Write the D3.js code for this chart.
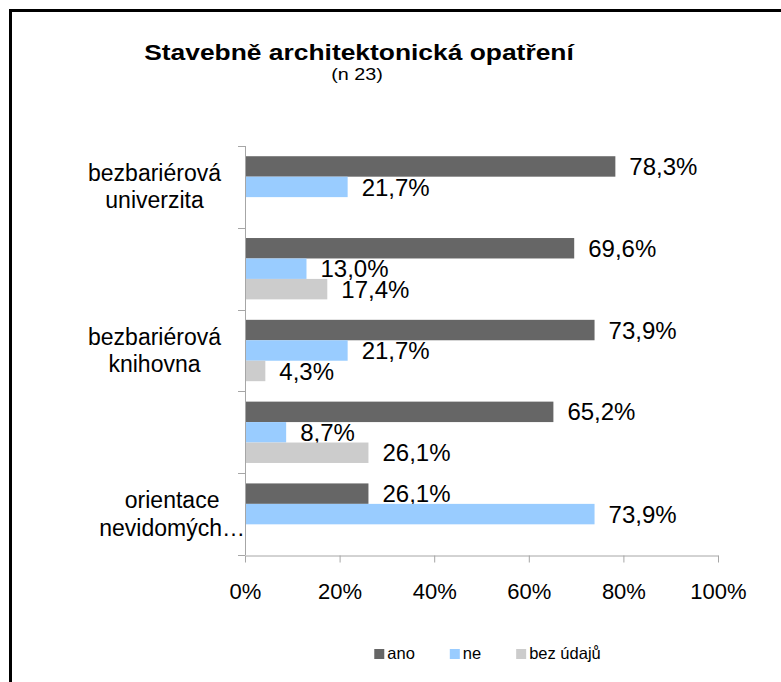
<!DOCTYPE html>
<html>
<head>
<meta charset="utf-8">
<script src="https://cdn.jsdelivr.net/npm/d3@7"></script>
<style>
  body { margin: 0; background: #fff; }
  svg { display: block; font-family: "Liberation Sans", Arial, sans-serif; }
</style>
</head>
<body>
<svg width="781" height="682"></svg>
<script>
// data
const categoryLines = [
  ["bezbariérová", "univerzita"],
  [],
  ["bezbariérová", "knihovna"],
  [],
  ["orientace", "nevidomých…"],
];
const seriesNames = ["ano", "ne", "bez údajů"];
const ano = [78.3, 69.6, 73.9, 65.2, 26.1];
const ne = [21.7, 13.0, 21.7, 8.7, 73.9];
const bezUdaju = [null, 17.4, 4.3, 26.1, null];
const xTicks = [0, 20, 40, 60, 80, 100];
const colors = ["#666666", "#99ccff", "#cccccc"];

const seriesValues = [ano, ne, bezUdaju];

const svg = d3.select("svg");
const cs = d3.formatLocale({ decimal: ",", thousands: " ", grouping: [3], currency: ["", " Kč"] });
const fmt = cs.format(".1f");

// frame
svg.append("rect")
  .attr("x", 10.5).attr("y", 10.5)
  .attr("width", 820).attr("height", 720)
  .attr("fill", "none")
  .attr("stroke", "#000")
  .attr("stroke-width", 3);

// title (stretched horizontally like the original)
svg.append("text")
  .attr("transform", "translate(359,60) scale(1.2,1)")
  .attr("text-anchor", "middle")
  .attr("font-weight", "bold")
  .attr("font-size", 22)
  .text("Stavebně architektonická opatření");

svg.append("text")
  .attr("transform", "translate(357,80) scale(1.2,1)")
  .attr("text-anchor", "middle")
  .attr("font-size", 16.5)
  .text("(n 23)");

// scales
const x = d3.scaleLinear().domain([0, 100]).range([245, 718]);
const y = d3.scaleBand()
  .domain(d3.range(categoryLines.length))
  .range([146, 555]);
const yInner = d3.scaleBand()
  .domain(seriesNames)
  .range([y.bandwidth() * 0.125, y.bandwidth() * 0.875]);

// bars
const groups = svg.append("g").attr("class", "bars")
  .selectAll("g")
  .data(d3.range(categoryLines.length))
  .join("g")
  .attr("transform", (i) => `translate(0,${y(i)})`);

const cells = groups.selectAll("g")
  .data((i) => seriesNames.map((s, k) => ({ s, k, v: seriesValues[k][i] })).filter((d) => d.v != null))
  .join("g");

cells.append("rect")
  .attr("x", x(0))
  .attr("y", (d) => yInner(d.s))
  .attr("width", (d) => x(d.v) - x(0))
  .attr("height", yInner.bandwidth())
  .attr("fill", (d) => colors[d.k]);

cells.append("text")
  .attr("x", (d) => x(d.v) + 14)
  .attr("y", (d) => yInner(d.s) + yInner.bandwidth() / 2)
  .attr("dy", "0.36em")
  .attr("font-size", 24)
  .attr("fill", "#000")
  .text((d) => fmt(d.v) + "%");

// y axis line and ticks at band boundaries
const axisColor = "#a6a6a6";
const yAxis = svg.append("g").attr("class", "y-axis");
yAxis.append("line")
  .attr("x1", x(0) + 0.5).attr("x2", x(0) + 0.5)
  .attr("y1", y.range()[0]).attr("y2", y.range()[1])
  .attr("stroke", axisColor);
yAxis.selectAll("line.tick")
  .data(d3.range(categoryLines.length + 1))
  .join("line")
  .attr("class", "tick")
  .attr("x1", x(0) - 7).attr("x2", x(0))
  .attr("y1", (i) => Math.round(y.range()[0] + i * y.step()) + 0.5)
  .attr("y2", (i) => Math.round(y.range()[0] + i * y.step()) + 0.5)
  .attr("stroke", axisColor);

// category labels (two lines, centered within their block)
const catLabels = yAxis.selectAll("g.cat")
  .data(d3.range(categoryLines.length).filter((i) => categoryLines[i].length))
  .join("g")
  .attr("class", "cat");

catLabels.each(function (i) {
  const g = d3.select(this);
  const lines = categoryLines[i];
  const cy = y(i) + y.bandwidth() / 2;
  const texts = lines.map((ln, j) =>
    g.append("text")
      .attr("y", cy - 6 + j * 27.5)
      .attr("font-size", 23)
      .attr("text-anchor", "middle")
      .text(ln)
  );
  const w = d3.max(texts, (t) => t.node().getComputedTextLength());
  const right = lines.some((ln) => ln.endsWith("…")) ? 245 : 221;
  texts.forEach((t) => t.attr("x", right - w / 2));
});

// x axis
const xAxis = svg.append("g")
  .attr("class", "x-axis")
  .attr("transform", `translate(0,${y.range()[1] + 0.5})`)
  .call(d3.axisBottom(x).tickValues(xTicks).tickFormat((d) => d + "%").tickSize(7).tickSizeOuter(0));
xAxis.select(".domain").attr("stroke", axisColor);
xAxis.selectAll(".tick line").attr("stroke", axisColor);
xAxis.selectAll(".tick text")
  .attr("font-family", "Liberation Sans, Arial, sans-serif")
  .attr("font-size", 22)
  .attr("fill", "#000")
  .attr("y", 0)
  .attr("dy", 43);

// legend
const legend = svg.append("g").attr("class", "legend");
const items = legend.selectAll("g")
  .data(seriesNames)
  .join("g");
items.append("rect")
  .attr("y", 649)
  .attr("width", 10).attr("height", 10)
  .attr("fill", (d, k) => colors[k]);
items.append("text")
  .attr("x", 13)
  .attr("y", 659)
  .attr("font-size", 16.5)
  .text((d) => d);

let cursor = 0;
const offsets = [];
items.each(function () {
  offsets.push(cursor);
  const tw = d3.select(this).select("text").node().getComputedTextLength();
  cursor += 13 + tw + 35;
});
const total = cursor - 35;
const start = 487.5 - total / 2;
items.attr("transform", (d, k) => `translate(${start + offsets[k]},0)`);
</script>
</body>
</html>
